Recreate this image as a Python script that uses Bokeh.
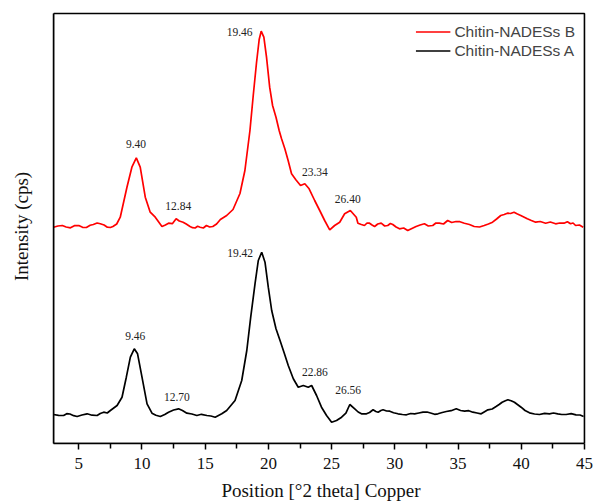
from bokeh.plotting import figure
from bokeh.models import Range1d, FixedTicker, Legend, LegendItem
from bokeh.core.properties import value
from bokeh.embed import file_html
from bokeh.resources import INLINE

# Chitin-NADESs B (red, upper trace, offset already included)
theta_b = [3.0, 3.35, 3.7, 4.0, 4.34, 4.65, 5.0, 5.3, 5.6, 5.9, 6.15, 6.45, 6.7, 7.0, 7.26,
           7.5, 7.7, 8.0, 8.28, 8.81, 9.2, 9.55, 9.86, 10.26, 10.65, 11.05, 11.58, 11.85,
           12.1, 12.4, 12.7, 12.95, 13.25, 13.5, 13.8, 14.0, 14.2, 14.4, 14.6, 14.85, 15.1,
           15.35, 15.6, 15.9, 16.2, 16.7, 17.2, 17.75, 18.14, 18.54, 18.8, 19.06, 19.27,
           19.43, 19.64, 19.85, 20.1, 20.33, 20.6, 20.85, 21.04, 21.3, 21.56, 21.83, 22.17,
           22.54, 22.88, 23.22, 23.66, 24.06, 24.45, 24.85, 25.24, 25.64, 26.03, 26.48,
           26.95, 27.08, 27.35, 27.6, 27.8, 28.0, 28.2, 28.4, 28.65, 28.92, 29.2, 29.44,
           29.65, 29.84, 30.1, 30.37, 30.7, 31.02, 31.35, 31.68, 32.0, 32.34, 32.65, 33.0,
           33.25, 33.52, 33.85, 34.18, 34.5, 34.84, 35.15, 35.5, 35.9, 36.28, 36.7, 37.07,
           37.4, 37.73, 38.05, 38.38, 38.65, 38.9, 39.15, 39.43, 39.7, 39.96, 40.2, 40.48,
           40.8, 41.14, 41.5, 41.93, 42.3, 42.72, 43.05, 43.38, 43.65, 43.9, 44.1, 44.3,
           44.6, 44.9]
intensity_b = [216.3, 217.5, 218.0, 216.5, 215.7, 217.8, 218.0, 216.2, 216.0, 218.2, 219.0,
               220.5, 219.7, 218.5, 216.3, 216.0, 217.0, 219.5, 226.3, 256.3, 276.3, 285.7,
               276.3, 246.3, 231.3, 226.3, 217.0, 218.5, 220.3, 219.8, 224.7, 222.5, 221.3,
               219.5, 217.0, 215.8, 215.5, 217.2, 216.3, 215.5, 218.0, 216.5, 217.0, 219.5,
               224.0, 228.0, 234.0, 250.0, 273.0, 313.0, 348.0, 381.0, 404.0, 412.3, 406.3,
               386.3, 356.3, 338.0, 326.3, 313.0, 304.7, 294.7, 283.0, 269.7, 263.7, 258.0,
               259.7, 254.7, 243.0, 233.0, 223.0, 213.7, 218.0, 221.3, 229.7, 233.0, 226.3,
               220.3, 219.0, 218.0, 220.5, 220.3, 218.5, 217.0, 219.5, 220.3, 217.5, 218.0,
               220.0, 219.0, 216.5, 214.7, 215.5, 213.0, 215.0, 217.0, 218.5, 219.7, 217.5,
               218.0, 220.5, 220.3, 219.5, 223.0, 221.0, 222.0, 221.8, 220.3, 219.0, 217.0,
               216.5, 218.0, 219.5, 221.3, 224.5, 228.0, 229.0, 230.3, 230.0, 231.3, 229.5,
               228.0, 226.5, 224.7, 223.0, 221.3, 222.0, 220.3, 221.5, 219.7, 220.5, 220.3,
               221.8, 219.7, 220.5, 218.0, 218.5, 216.3]

# Chitin-NADESs A (black, lower trace)
theta_a = [3.0, 3.4, 3.8, 4.05, 4.3, 4.6, 4.87, 5.25, 5.66, 6.05, 6.45, 6.7, 6.97, 7.25,
           7.5, 8.03, 8.42, 8.76, 9.08, 9.39, 9.65, 10.0, 10.4, 10.79, 11.1, 11.45, 11.8,
           12.1, 12.5, 12.89, 13.2, 13.55, 13.95, 14.34, 14.7, 15.13, 15.45, 15.79, 16.05,
           16.31, 16.7, 17.36, 17.89, 18.29, 18.6, 18.94, 19.2, 19.47, 19.73, 19.99, 20.26,
           20.6, 20.92, 21.23, 21.57, 21.97, 22.36, 22.76, 23.15, 23.42, 23.81, 24.2, 24.6,
           25.0, 25.39, 25.79, 26.13, 26.44, 26.83, 27.1, 27.36, 27.76, 28.0, 28.28, 28.5,
           28.68, 28.9, 29.07, 29.35, 29.6, 29.9, 30.25, 30.6, 30.92, 31.25, 31.57, 31.9,
           32.23, 32.55, 32.89, 33.15, 33.41, 33.75, 34.07, 34.45, 34.86, 35.2, 35.52, 35.85,
           36.17, 36.5, 36.83, 37.1, 37.36, 37.7, 38.01, 38.25, 38.49, 38.7, 38.94, 39.2,
           39.46, 39.7, 39.99, 40.3, 40.65, 41.05, 41.44, 41.85, 42.23, 42.55, 42.89, 43.2,
           43.55, 43.95, 44.33, 44.65, 44.93]
intensity_a = [29.0, 28.2, 28.0, 29.8, 29.5, 27.8, 27.0, 28.5, 29.7, 28.3, 28.0, 30.0, 31.3,
               30.5, 33.0, 38.0, 46.3, 66.3, 86.3, 94.7, 89.7, 66.3, 39.7, 30.3, 28.2, 27.0,
               29.0, 31.3, 33.5, 34.7, 33.0, 30.3, 29.5, 28.0, 29.2, 28.0, 27.5, 26.3, 28.0,
               29.7, 33.0, 43.0, 63.0, 93.0, 126.3, 159.7, 183.0, 191.3, 181.3, 156.3, 133.0,
               114.7, 103.0, 91.3, 78.0, 64.7, 56.3, 58.0, 56.3, 58.0, 48.0, 36.3, 28.0, 21.3,
               23.0, 26.3, 30.3, 39.0, 34.7, 31.5, 29.7, 29.7, 31.0, 33.7, 32.0, 31.3, 33.0,
               33.7, 32.5, 32.3, 30.8, 29.7, 29.0, 28.7, 30.0, 29.7, 30.5, 31.3, 31.5, 30.3,
               29.2, 29.7, 31.0, 32.0, 32.8, 34.7, 33.0, 32.3, 32.8, 31.3, 30.5, 29.7, 31.8,
               33.7, 34.5, 37.0, 39.0, 41.3, 42.5, 43.7, 42.8, 41.3, 39.0, 36.3, 33.0, 30.7,
               29.5, 29.0, 30.2, 29.7, 30.5, 29.7, 29.0, 29.0, 29.8, 28.7, 28.5, 27.0]

# Peak annotations
labels_b = ["9.40", "12.84", "19.46", "23.34", "26.40"]
label_b_x = [9.53, 12.87, 17.72, 23.68, 26.28]
label_b_y = [299.7, 238.0, 411.3, 271.3, 245.0]
labels_a = ["9.46", "12.70", "19.42", "22.86", "26.56"]
label_a_x = [9.47, 12.76, 17.76, 23.68, 26.31]
label_a_y = [108.0, 47.0, 190.3, 71.3, 54.0]

major_ticks = [5, 10, 15, 20, 25, 30, 35, 40, 45]
minor_ticks = [2.5, 7.5, 12.5, 17.5, 22.5, 27.5, 32.5, 37.5, 42.5]
x_lo, x_hi = 3, 45
y_lo, y_hi = 0, 430

p = figure(width=593, height=504, output_backend="svg", toolbar_location=None,
           x_range=Range1d(x_lo, x_hi + 0.32), y_range=Range1d(y_lo, y_hi + 4),
           min_border_left=53, min_border_right=5, min_border_top=9, min_border_bottom=61,
           background_fill_color="white", border_fill_color="white")
p.xgrid.visible = False
p.ygrid.visible = False
p.outline_line_color = None

xa = p.xaxis[0]
xa.ticker = FixedTicker(ticks=major_ticks, minor_ticks=minor_ticks)
xa.bounds = (x_lo, x_hi)
xa.axis_line_width = 1.5
xa.axis_line_color = "black"
xa.major_tick_line_width = 1.5
xa.minor_tick_line_width = 1.5
xa.major_tick_in = 0
xa.major_tick_out = 6
xa.minor_tick_in = 0
xa.minor_tick_out = 5
xa.major_label_text_font = "Liberation Serif"
xa.major_label_text_font_size = "17px"
xa.major_label_text_color = "#111111"
xa.major_label_standoff = 8
xa.axis_label = "Position [°2 theta] Copper"
xa.axis_label_text_font = "Liberation Serif"
xa.axis_label_text_font_size = "19px"
xa.axis_label_text_font_style = "normal"
xa.axis_label_text_color = "#111111"
xa.axis_label_standoff = 8

ya = p.yaxis[0]
ya.ticker = FixedTicker(ticks=[])
ya.bounds = (y_lo, y_hi)
ya.axis_line_width = 1.5
ya.axis_line_color = "black"
ya.major_tick_line_color = None
ya.minor_tick_line_color = None
ya.axis_label = "Intensity (cps)"
ya.axis_label_text_font = "Liberation Serif"
ya.axis_label_text_font_size = "19px"
ya.axis_label_text_font_style = "normal"
ya.axis_label_text_color = "#111111"
ya.axis_label_standoff = 22

rb = p.line(theta_b, intensity_b, line_color="#ff0000", line_width=1.7)
ra = p.line(theta_a, intensity_a, line_color="black", line_width=1.7)

# box round the plotting area, drawn after the data along the axis limits
p.quad(left=x_lo, right=x_hi, bottom=y_lo, top=y_hi, fill_color=None,
       line_color="black", line_width=1.6)

p.text(x=label_b_x, y=label_b_y, text=labels_b, text_font=value("Liberation Serif"),
       text_font_size="11.5px", text_align="center", text_baseline="middle", text_color="#222222")
p.text(x=label_a_x, y=label_a_y, text=labels_a, text_font=value("Liberation Serif"),
       text_font_size="11.5px", text_align="center", text_baseline="middle", text_color="#222222")

legend = Legend(items=[LegendItem(label="Chitin-NADESs B", renderers=[rb]),
                       LegendItem(label="Chitin-NADESs A", renderers=[ra])],
                location="top_right", border_line_color=None, background_fill_alpha=0,
                label_text_font="Liberation Sans", label_text_font_size="15.5px",
                glyph_width=35, glyph_height=19, label_height=19, spacing=-3, padding=0,
                margin=13, label_standoff=4)
p.add_layout(legend)

open("out.html", "w").write(file_html(p, INLINE))
